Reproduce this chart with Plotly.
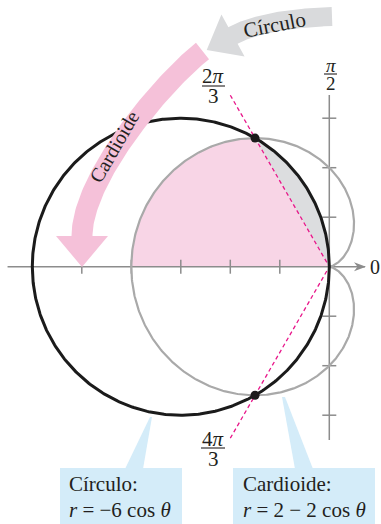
import numpy as np
import plotly.graph_objects as go

# ---------------- data ----------------
circle_k = -6.0                      # circle:   r = -6 cos θ
cardioid_a, cardioid_b = 2.0, -2.0   # cardioid: r = 2 - 2 cos θ
intersection_angles = [2 * np.pi / 3, 4 * np.pi / 3]
dash_radius = 4.0
x_ticks = [-6, -5, -4, -3, -2, -1]
y_ticks = [-3, -2, -1, 1, 2, 3]
x_axis_span = [-6.5, 0.72]
y_axis_span = [-3.5, 3.47]
angle_label_num = ["2<i>π</i>", "4<i>π</i>", "<i>π</i>"]
angle_label_den = ["3", "3", "2"]
zero_label = "0"
arrow_labels = ["Cardioide", "Círculo"]
callout_titles = ["Círculo:", "Cardioide:"]
callout_eqs = ["<i>r</i> = −6 cos <i>θ</i>", "<i>r</i> = 2 − 2 cos <i>θ</i>"]

# ---------------- styling / geometry helpers ----------------
W, H = 381, 524
OX, OY, S = 329.3, 266.7, 49.5
FONT = "Liberation Serif"
TXT = "#231f20"


def X(px):
    return (px - OX) / S


def Y(py):
    return (OY - py) / S


def circle_r(t):
    return circle_k * np.cos(t)


def cardioid_r(t):
    return cardioid_a + cardioid_b * np.cos(t)


def to_xy(r, t):
    return r * np.cos(t), r * np.sin(t)


fig = go.Figure()


def poly(xs, ys, color, line_color=None, width=0):
    fig.add_trace(go.Scatter(x=list(xs), y=list(ys), mode="lines", fill="toself",
                             fillcolor=color,
                             line=dict(color=line_color or color, width=width),
                             hoverinfo="skip", showlegend=False))


def line(xs, ys, color, width, dash=None):
    fig.add_trace(go.Scatter(x=list(xs), y=list(ys), mode="lines",
                             line=dict(color=color, width=width, dash=dash),
                             hoverinfo="skip", showlegend=False))


# ---- shaded regions ----
t_p = np.linspace(intersection_angles[0], np.pi, 200)
px_, py_ = to_xy(cardioid_r(t_p), t_p)
poly(np.r_[0, px_, 0], np.r_[0, py_, 0], "#f8d5e6")

t_g = np.linspace(np.pi / 2, intersection_angles[0], 200)
gx_, gy_ = to_xy(circle_r(t_g), t_g)
poly(np.r_[0, gx_, 0], np.r_[0, gy_, 0], "#dcdddf")

# ---- axes ----
AX = "#8c8c8c"
line(x_axis_span, [0, 0], AX, 1.5)
line([0, 0], y_axis_span, AX, 1.5)
th = 7 / S
for xt in x_ticks:
    line([xt, xt], [-th, th], AX, 1.5)
for yt in y_ticks:
    line([-th, th], [yt, yt], AX, 1.5)
# arrow head on polar axis
poly([X(366), X(354), X(357.5), X(354), X(366)],
     [Y(OY), Y(OY - 4.5), Y(OY), Y(OY + 4.5), Y(OY)], AX)

# ---- curves ----
t_c = np.linspace(0, 2 * np.pi, 800)
cx_, cy_ = to_xy(cardioid_r(t_c), t_c)
line(cx_, cy_, "#a9a9a9", 2.2)

d_t = intersection_angles
dx_ = [dash_radius * np.cos(d_t[0]), 0, dash_radius * np.cos(d_t[1])]
dy_ = [dash_radius * np.sin(d_t[0]), 0, dash_radius * np.sin(d_t[1])]
line(dx_, dy_, "#e8168a", 1.3, dash="4px,3px")

t_k = np.linspace(0, np.pi, 600)
kx_, ky_ = to_xy(circle_r(t_k), t_k)
line(kx_, ky_, "#1b1b1b", 3)


# ---- decorative curved arrows ----
def band_arrow(ctrl, w, hw, L, color, n=80):
    P = np.array(ctrl, float)
    t = np.linspace(0, 1, n)[:, None]
    if len(P) == 4:
        B = (1 - t) ** 3 * P[0] + 3 * (1 - t) ** 2 * t * P[1] + 3 * (1 - t) * t ** 2 * P[2] + t ** 3 * P[3]
        D = 3 * (1 - t) ** 2 * (P[1] - P[0]) + 6 * (1 - t) * t * (P[2] - P[1]) + 3 * t ** 2 * (P[3] - P[2])
    else:
        B = (1 - t) ** 2 * P[0] + 2 * (1 - t) * t * P[1] + t ** 2 * P[2]
        D = 2 * (1 - t) * (P[1] - P[0]) + 2 * t * (P[2] - P[1])
    D = D / np.linalg.norm(D, axis=1)[:, None]
    N = np.c_[-D[:, 1], D[:, 0]]
    left = B + N * w / 2
    right = B - N * w / 2
    e, ne, de = B[-1], N[-1], D[-1]
    head = np.array([e + ne * hw, e + de * L, e - ne * hw])
    pts = np.vstack([left, head, right[::-1], left[:1]])
    poly(X(pts[:, 0]), Y(pts[:, 1]), color)


band_arrow([(202.5, 51), (159.7, 85), (82, 179), (82, 236)], 21, 26, 31, "#f5c1d9")
band_arrow([(332, 16.5), (263, 19), (233, 35.5)], 19, 24, 30, "#d9dadc")

# ---- intersection points ----
ix = [circle_r(a) * np.cos(a) for a in intersection_angles]
iy = [circle_r(a) * np.sin(a) for a in intersection_angles]
fig.add_trace(go.Scatter(x=ix, y=iy, mode="markers",
                         marker=dict(color="#1b1b1b", size=9),
                         hoverinfo="skip", showlegend=False))

# ---- callout boxes ----
BOX = "#d4ecf9"
poly([X(125), X(143), X(152), X(150), X(125)], [Y(469), Y(469), Y(417), Y(417), Y(469)], BOX)
poly([X(295), X(313), X(285), X(282), X(295)], [Y(469), Y(469), Y(397), Y(397), Y(469)], BOX)
poly([X(60), X(182), X(182), X(60), X(60)], [Y(468), Y(468), Y(530), Y(530), Y(468)], BOX)
poly([X(233), X(375), X(375), X(233), X(233)], [Y(468), Y(468), Y(530), Y(530), Y(468)], BOX)

ann = []


def text(px, py, s, size, xanchor="center", angle=0):
    ann.append(dict(x=X(px), y=Y(py), text=s, showarrow=False, xanchor=xanchor,
                    yanchor="middle", textangle=angle,
                    font=dict(family=FONT, size=size, color=TXT)))


# fraction labels
frac_pos = [(213, 76, 86, 96, 202, 225, 21), (213, 439, 448, 459, 201, 225, 21),
            (331, 65, 74, 83, 324, 337, 19)]
for (fx, ny, by, dy, b0, b1, fs), num, den in zip(frac_pos, angle_label_num, angle_label_den):
    text(fx, ny, num, fs)
    text(fx, dy, den, fs)
    line([X(b0), X(b1)], [Y(by), Y(by)], TXT, 1.1)
text(375, 267, zero_label, 20)

# arrow labels
text(114, 147, arrow_labels[0], 20, angle=-60)
text(274, 25, arrow_labels[1], 21, angle=-11)

# callouts
text(67, 484, callout_titles[0], 21, xanchor="left")
text(67, 510, callout_eqs[0], 21, xanchor="left")
text(241, 484, callout_titles[1], 21, xanchor="left")
text(241, 510, callout_eqs[1], 21, xanchor="left")

fig.update_layout(
    width=W, height=H, margin=dict(l=0, r=0, t=0, b=0),
    paper_bgcolor="white", plot_bgcolor="white",
    xaxis=dict(range=[X(0), X(W)], visible=False, fixedrange=True),
    yaxis=dict(range=[Y(H), Y(0)], visible=False, fixedrange=True),
    annotations=ann, showlegend=False,
)
fig.write_html("out.html", config={"displayModeBar": False},
               post_script="document.body.style.margin='0';document.body.style.overflow='hidden';")
